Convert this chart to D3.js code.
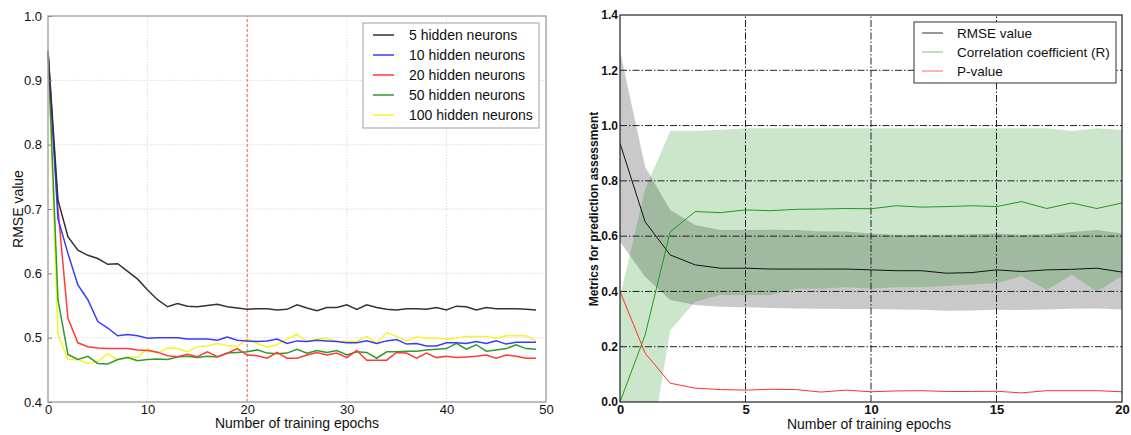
<!DOCTYPE html>
<html>
<head>
<meta charset="utf-8">
<script src="https://cdn.jsdelivr.net/npm/d3@7"></script>
<style>
  body { margin: 0; background: #fff; }
  text { font-family: "Liberation Sans", Arial, sans-serif; fill: #111; }
</style>
</head>
<body>
<div id="chart"></div>
<script>
// Left panel: RMSE vs epochs, one line per hidden layer size
const epochsLeft = d3.range(50);
const hidden5 = [0.945,0.714,0.657,0.636,0.628,0.623,0.614,0.615,0.603,0.591,0.574,0.559,0.548,0.553,0.549,0.548,0.550,0.552,0.548,0.546,
  0.544,0.545,0.545,0.543,0.544,0.551,0.546,0.542,0.547,0.547,0.551,0.544,0.551,0.547,0.544,0.543,0.545,0.545,0.544,0.547,
  0.543,0.549,0.548,0.543,0.547,0.545,0.545,0.545,0.544,0.543];
const hidden10 = [0.945,0.685,0.631,0.582,0.559,0.525,0.515,0.503,0.505,0.503,0.499,0.500,0.500,0.500,0.498,0.498,0.498,0.496,0.501,0.496,
  0.495,0.494,0.495,0.498,0.491,0.495,0.494,0.496,0.495,0.494,0.492,0.492,0.495,0.491,0.495,0.497,0.490,0.491,0.487,0.487,
  0.492,0.492,0.491,0.494,0.491,0.495,0.490,0.493,0.493,0.493];
const hidden20 = [0.945,0.700,0.530,0.492,0.486,0.484,0.483,0.483,0.483,0.481,0.480,0.4775,0.472,0.4705,0.474,0.4705,0.478,0.4705,0.4757,0.483,
  0.473,0.472,0.468,0.477,0.468,0.468,0.473,0.477,0.473,0.476,0.469,0.480,0.465,0.465,0.465,0.477,0.476,0.468,0.476,0.469,
  0.471,0.469,0.470,0.471,0.473,0.468,0.473,0.471,0.468,0.468];
const hidden50 = [0.945,0.559,0.474,0.466,0.471,0.460,0.459,0.466,0.469,0.464,0.466,0.467,0.466,0.470,0.471,0.469,0.471,0.470,0.476,0.477,
  0.478,0.481,0.476,0.475,0.476,0.482,0.476,0.480,0.477,0.480,0.473,0.478,0.477,0.468,0.478,0.478,0.479,0.479,0.481,0.482,
  0.483,0.491,0.482,0.489,0.479,0.481,0.483,0.489,0.483,0.482];
const hidden100 = [0.945,0.505,0.466,0.466,0.460,0.463,0.475,0.465,0.470,0.470,0.483,0.476,0.484,0.483,0.478,0.486,0.487,0.491,0.488,0.486,
  0.499,0.491,0.485,0.489,0.498,0.505,0.494,0.498,0.499,0.494,0.494,0.494,0.502,0.491,0.508,0.502,0.495,0.501,0.499,0.499,
  0.498,0.499,0.502,0.502,0.502,0.499,0.503,0.503,0.503,0.495];
const leftNames = ["5 hidden neurons", "10 hidden neurons", "20 hidden neurons", "50 hidden neurons", "100 hidden neurons"];
const leftColors = ["#333333", "#3a3aff", "#ff3a3a", "#2e9a2e", "#f5f52a"];
const leftXTicks = [0, 10, 20, 30, 40, 50];
const leftYTicks = [0.4, 0.5, 0.6, 0.7, 0.8, 0.9, 1.0];
const markerEpoch = 20;

// Right panel: metrics with +/- std bands
const epochsRight = d3.range(21);
const rmseMean = [0.936,0.652,0.532,0.496,0.484,0.484,0.481,0.481,0.481,0.481,0.478,0.475,0.475,0.466,0.468,0.478,0.472,0.478,0.480,0.484,0.470];
const rmseUpper = [1.27,0.851,0.695,0.640,0.622,0.622,0.623,0.622,0.618,0.617,0.610,0.605,0.605,0.605,0.607,0.610,0.605,0.608,0.615,0.622,0.610];
const rmseLower = [0.58,0.453,0.369,0.351,0.345,0.343,0.340,0.338,0.337,0.336,0.336,0.335,0.334,0.330,0.331,0.334,0.333,0.335,0.337,0.338,0.335];
const rMean = [0.0,0.242,0.616,0.689,0.685,0.695,0.692,0.697,0.698,0.700,0.699,0.710,0.705,0.707,0.710,0.707,0.725,0.700,0.720,0.700,0.720];
const rUpper = [0.38,0.77,0.98,0.98,0.985,0.99,0.99,0.99,0.99,0.99,0.99,0.99,0.99,0.99,0.99,0.99,0.99,0.99,0.98,0.99,0.985];
const rLower = [-0.35,-0.29,0.26,0.363,0.387,0.387,0.387,0.41,0.41,0.415,0.41,0.415,0.415,0.42,0.425,0.43,0.455,0.405,0.46,0.40,0.455];
const pValue = [0.40,0.177,0.068,0.050,0.045,0.043,0.046,0.045,0.036,0.043,0.037,0.040,0.041,0.038,0.038,0.039,0.033,0.041,0.041,0.041,0.037];
const rightNames = ["RMSE value", "Correlation coefficient (R)", "P-value"];
const rightXTicks = [0, 5, 10, 15, 20];
const rightYTicks = [0.0, 0.2, 0.4, 0.6, 0.8, 1.0, 1.2, 1.4];

const svg = d3.select("#chart").append("svg")
    .attr("width", 1131)
    .attr("height", 435);

// ---------- left panel ----------
let xL = d3.scaleLinear().domain([0, 50]).range([48, 546]);
let yL = d3.scaleLinear().domain([0.4, 1.0]).range([402, 16]);

// grid
svg.append("g").selectAll("line").data(leftXTicks.slice(1, -1)).enter()
    .append("line")
    .attr("x1", d => xL(d)).attr("x2", d => xL(d))
    .attr("y1", yL(0.4)).attr("y2", yL(1.0))
    .attr("stroke", "#dedede").attr("stroke-dasharray", "1.5,1.5");
svg.append("g").selectAll("line").data(leftYTicks.slice(1, -1)).enter()
    .append("line")
    .attr("x1", xL(0)).attr("x2", xL(50))
    .attr("y1", d => yL(d)).attr("y2", d => yL(d))
    .attr("stroke", "#dedede").attr("stroke-dasharray", "1.5,1.5");

// red marker at epoch 20
svg.append("line")
    .attr("x1", xL(markerEpoch)).attr("x2", xL(markerEpoch))
    .attr("y1", yL(0.4)).attr("y2", yL(1.0))
    .attr("stroke", "#ff5a5a").attr("stroke-width", 1)
    .attr("stroke-dasharray", "3,2");

let leftSeries = [hidden5, hidden10, hidden20, hidden50, hidden100];
let lineL = d3.line()
    .x((d, i) => xL(epochsLeft[i]))
    .y(d => yL(d));

// draw in reverse so black stays on top like the original
leftSeries.slice().reverse().forEach(function(s, k) {
    let idx = leftSeries.length - 1 - k;
    svg.append("path")
        .datum(s)
        .attr("fill", "none")
        .attr("stroke", leftColors[idx])
        .attr("stroke-width", 1.5)
        .attr("d", lineL);
});

// frame
svg.append("rect")
    .attr("x", xL(0)).attr("y", yL(1.0))
    .attr("width", xL(50) - xL(0)).attr("height", yL(0.4) - yL(1.0))
    .attr("fill", "none").attr("stroke", "#a8a8a8").attr("stroke-width", 1.5);

// axes
let axL = svg.append("g")
    .attr("transform", `translate(0,${yL(0.4)})`)
    .call(d3.axisBottom(xL).tickValues(leftXTicks).tickFormat(d3.format("d")).tickSize(0).tickPadding(3));
let ayL = svg.append("g")
    .attr("transform", `translate(${xL(0)},0)`)
    .call(d3.axisLeft(yL).tickValues(leftYTicks).tickFormat(d3.format(".1f")).tickSizeInner(-4).tickSizeOuter(0).tickPadding(6));
[axL, ayL].forEach(function(a) {
    a.select(".domain").remove();
    a.selectAll("line").attr("stroke", "#888");
    a.selectAll("text").style("font-size", "13px").attr("fill", "#111");
});

svg.append("text")
    .attr("transform", `translate(18, 209) rotate(-90)`)
    .attr("dy", "0.35em")
    .style("text-anchor", "middle")
    .style("font-size", "14px")
    .text("RMSE value");
svg.append("text")
    .attr("x", 297).attr("y", 428)
    .style("text-anchor", "middle")
    .style("font-size", "14px")
    .text("Number of training epochs");

// legend
let legL = svg.append("g");
legL.append("rect")
    .attr("x", 363).attr("y", 23).attr("width", 176).attr("height", 105)
    .attr("fill", "#fff").attr("stroke", "#a0a0a0");
leftNames.forEach(function(name, i) {
    let yy = 35 + i * 20;
    legL.append("line")
        .attr("x1", 373).attr("x2", 394).attr("y1", yy).attr("y2", yy)
        .attr("stroke", leftColors[i]).attr("stroke-width", 1.5);
    legL.append("text")
        .attr("x", 409).attr("y", yy).attr("dy", "0.35em")
        .style("font-size", "14px")
        .text(name);
});

// ---------- right panel ----------
let xR = d3.scaleLinear().domain([0, 20]).range([620, 1122]);
let yR = d3.scaleLinear().domain([0, 1.4]).range([402, 15]);

svg.append("clipPath").attr("id", "clipR")
    .append("rect")
    .attr("x", xR(0)).attr("y", yR(1.4))
    .attr("width", xR(20) - xR(0)).attr("height", yR(0) - yR(1.4));

let plotR = svg.append("g").attr("clip-path", "url(#clipR)");

let bandArea = function(upper, lower) {
    return d3.area()
        .x((d, i) => xR(epochsRight[i]))
        .y0((d, i) => yR(lower[i]))
        .y1((d, i) => yR(upper[i]));
};

plotR.append("path")
    .datum(rmseMean)
    .attr("fill", "#000").attr("fill-opacity", 0.21)
    .attr("d", bandArea(rmseUpper, rmseLower));
plotR.append("path")
    .datum(rMean)
    .attr("fill", "#008000").attr("fill-opacity", 0.2)
    .attr("d", bandArea(rUpper, rLower));

// dash-dot grid
let dashDot = "7,2,1.5,2";
plotR.append("g").selectAll("line").data(rightXTicks.slice(1, -1)).enter()
    .append("line")
    .attr("x1", d => xR(d)).attr("x2", d => xR(d))
    .attr("y1", yR(0)).attr("y2", yR(1.4))
    .attr("stroke", "#222").attr("stroke-width", 1).attr("stroke-dasharray", dashDot);
plotR.append("g").selectAll("line").data(rightYTicks.slice(1, -1)).enter()
    .append("line")
    .attr("x1", xR(0)).attr("x2", xR(20))
    .attr("y1", d => yR(d)).attr("y2", d => yR(d))
    .attr("stroke", "#222").attr("stroke-width", 1).attr("stroke-dasharray", dashDot);

let lineR = d3.line()
    .x((d, i) => xR(epochsRight[i]))
    .y(d => yR(d));
let rightSeries = [rmseMean, rMean, pValue];
let rightColors = ["#111111", "#1f9a1f", "#ff3030"];
rightSeries.forEach(function(s, i) {
    plotR.append("path")
        .datum(s)
        .attr("fill", "none")
        .attr("stroke", rightColors[i])
        .attr("stroke-width", 1)
        .attr("d", lineR);
});

svg.append("rect")
    .attr("x", xR(0)).attr("y", yR(1.4))
    .attr("width", xR(20) - xR(0)).attr("height", yR(0) - yR(1.4))
    .attr("fill", "none").attr("stroke", "#222").attr("stroke-width", 1.2);

let axR = svg.append("g")
    .attr("transform", `translate(0,${yR(0)})`)
    .call(d3.axisBottom(xR).tickValues(rightXTicks).tickFormat(d3.format("d")).tickSize(0).tickPadding(3));
let ayR = svg.append("g")
    .attr("transform", `translate(${xR(0)},0)`)
    .call(d3.axisLeft(yR).tickValues(rightYTicks).tickFormat(d3.format(".1f")).tickSize(0).tickPadding(2));
[axR, ayR].forEach(function(a) {
    a.select(".domain").remove();
    a.selectAll("text").style("font-weight", "bold").attr("fill", "#111");
});
axR.selectAll("text").style("font-size", "13px");
ayR.selectAll("text").style("font-size", "12px");

svg.append("text")
    .attr("transform", `translate(594, 209) rotate(-90)`)
    .attr("dy", "0.35em")
    .style("text-anchor", "middle")
    .style("font-size", "12px")
    .style("font-weight", "bold")
    .text("Metrics for prediction assessment");
svg.append("text")
    .attr("x", 869).attr("y", 429)
    .style("text-anchor", "middle")
    .style("font-size", "14px")
    .text("Number of training epochs");

let legR = svg.append("g");
legR.append("rect")
    .attr("x", 914).attr("y", 22).attr("width", 202).attr("height", 61)
    .attr("fill", "#fff").attr("stroke", "#333");
let legRColors = ["#333333", "#7cc07c", "#ff6a6a"];
rightNames.forEach(function(name, i) {
    let yy = 33 + i * 19;
    legR.append("line")
        .attr("x1", 922).attr("x2", 943).attr("y1", yy).attr("y2", yy)
        .attr("stroke", legRColors[i]).attr("stroke-width", 1);
    legR.append("text")
        .attr("x", 957).attr("y", yy).attr("dy", "0.35em")
        .style("font-size", "13.5px")
        .text(name);
});
</script>
</body>
</html>
